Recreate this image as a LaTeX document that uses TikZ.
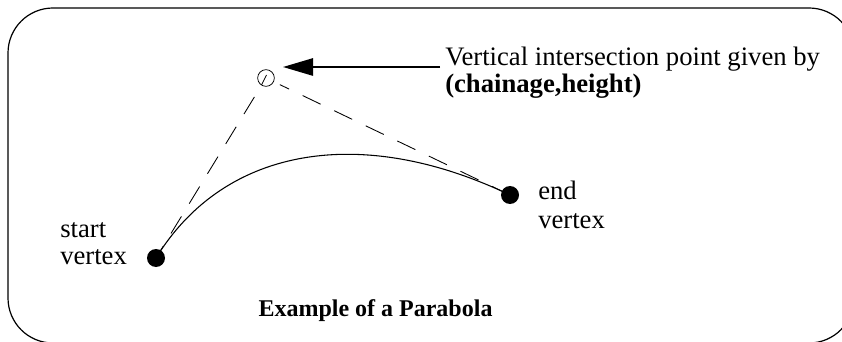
\documentclass[tikz,border=0pt]{standalone}
\usepackage{fontspec}
\setmainfont{Liberation Serif}
\usetikzlibrary{arrows.meta}
\tikzset{
  px/.style={x=0.75pt,y=-0.75pt},
  frame/.style={line width=0.9pt,rounded corners=33.75pt},
  dot/.style={circle,fill=black,inner sep=0pt,minimum size=13.5pt},
  vipmark/.style={circle,draw,line width=0.55pt,inner sep=0pt,minimum size=12.5pt},
  dashline/.style={line width=0.65pt,dash pattern=on 15pt off 11.25pt},
  curveline/.style={line width=0.8pt},
  pointer/.style={line width=1.25pt,-{Triangle[length=22.5pt,width=13pt]}},
  lbl/.style={inner sep=0pt,anchor=base west,font=\fontsize{20}{22}\selectfont,align=left},
  title/.style={inner sep=0pt,anchor=base,font=\bfseries\fontsize{18}{20}\selectfont}
}
\begin{document}
\begin{tikzpicture}[px]
\useasboundingbox (0,0) rectangle (842,342);
\clip (0,0) rectangle (842,342);
\draw[frame] (8,8) rectangle (854,343);
\node[dot] (start) at (156,258) {};
\node[dot] (end) at (510,195) {};
\node[vipmark] (vip) at (266,78) {};
\coordinate (sl1) at (261.5,85);
\coordinate (sl2) at (266.5,75);
\draw[line width=0.55pt] (sl1) -- (sl2);
\draw[dashline,dash phase=4.7pt] (start.center) -- (vip);
\draw[dashline,shorten >=5pt] (end.center) -- (vip);
\draw[curveline] (start.center) .. controls (226,144) and (365,125.5) .. (end.center);
\coordinate (tail) at (440,67);
\coordinate (tip) at (283,67);
\draw[pointer] (tail) -- (tip);
\node[lbl] (vl) at (445,65.5) {Vertical intersection point given by};
\node[lbl] (cl) at (445,93) {\textbf{(chainage,height)}};
\node[lbl] (sl) at (60,237) {start};
\node[lbl] (svl) at (60,264) {vertex};
\node[lbl] (el) at (538,199.5) {end};
\node[lbl] (evl) at (538,228) {vertex};
\node[title] (ttl) at (375.5,316) {Example of a Parabola};
\end{tikzpicture}
\end{document}
